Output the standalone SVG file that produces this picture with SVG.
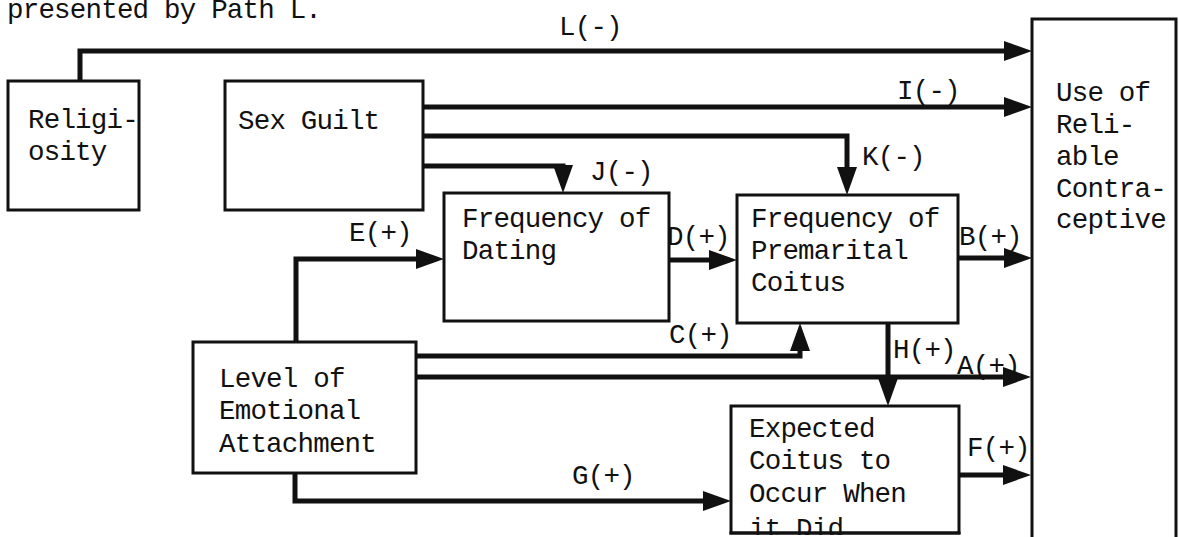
<svg xmlns="http://www.w3.org/2000/svg" width="1179" height="537" viewBox="0 0 1179 537">
  <style>
    .box { fill: #fff; stroke: #111; stroke-width: 3; }
    .edge { fill: none; stroke: #111; stroke-width: 5; stroke-linejoin: miter; }
    text { font-family: "Liberation Mono", "DejaVu Sans Mono", monospace; font-size: 27.5px; letter-spacing: -0.8px; fill: #111; }
  </style>
  <defs>
    <marker id="arrow" markerUnits="userSpaceOnUse" markerWidth="28" markerHeight="20" viewBox="0 0 28 20" refX="13" refY="10" orient="auto">
      <path d="M0,0 L28,10 L0,20 Z" fill="#111"/>
    </marker>
  </defs>

  <rect width="1179" height="537" fill="#fff"/>

  <text x="7" y="18">presented by Path L.</text>

  <g id="connectors">
    <path id="path-L" class="edge" d="M80,82 L80,51 L1017,51" marker-end="url(#arrow)"/>
    <path id="path-I" class="edge" d="M423,107 L1017,107" marker-end="url(#arrow)"/>
    <path id="path-K" class="edge" d="M423,136 L847,136 L847,180" marker-end="url(#arrow)"/>
    <path id="path-J" class="edge" d="M423,166 L563,166 L563,178" marker-end="url(#arrow)"/>
    <path id="path-E" class="edge" d="M296,342 L296,259 L429,259" marker-end="url(#arrow)"/>
    <path id="path-D" class="edge" d="M669,260 L722,260" marker-end="url(#arrow)"/>
    <path id="path-B" class="edge" d="M958,258 L1017,258" marker-end="url(#arrow)"/>
    <path id="path-C" class="edge" d="M416,356 L800,356 L800,338" marker-end="url(#arrow)"/>
    <path id="path-A" class="edge" d="M416,377 L1016,377" marker-end="url(#arrow)"/>
    <path id="path-H" class="edge" d="M888,323 L888,391" marker-end="url(#arrow)"/>
    <path id="path-F" class="edge" d="M959,475 L1016,475" marker-end="url(#arrow)"/>
    <path id="path-G" class="edge" d="M295,473 L295,501 L716,501" marker-end="url(#arrow)"/>

    <text x="559" y="35">L(-)</text>
    <text x="897" y="99">I(-)</text>
    <text x="862" y="165">K(-)</text>
    <text x="590" y="180">J(-)</text>
    <text x="349" y="241">E(+)</text>
    <text x="667" y="245">D(+)</text>
    <text x="959" y="245">B(+)</text>
    <text x="669" y="343">C(+)</text>
    <text x="893" y="358">H(+)</text>
    <text x="957" y="374">A(+)</text>
    <text x="967" y="456">F(+)</text>
    <text x="572" y="484">G(+)</text>
  </g>

  <g id="religiosity">
    <rect class="box" x="8" y="81" width="131" height="129"/>
    <text x="28" y="128">Religi-</text>
    <text x="28" y="160">osity</text>
  </g>

  <g id="sex-guilt">
    <rect class="box" x="225" y="81" width="198" height="129"/>
    <text x="238" y="129">Sex Guilt</text>
  </g>

  <g id="dating">
    <rect class="box" x="444" y="193" width="225" height="128"/>
    <text x="462" y="227">Frequency of</text>
    <text x="462" y="259">Dating</text>
  </g>

  <g id="premarital-coitus">
    <rect class="box" x="737" y="195" width="221" height="128"/>
    <text x="751" y="227">Frequency of</text>
    <text x="751" y="259">Premarital</text>
    <text x="751" y="291">Coitus</text>
  </g>

  <g id="emotional-attachment">
    <rect class="box" x="193" y="342" width="223" height="131"/>
    <text x="219" y="387">Level of</text>
    <text x="219" y="419">Emotional</text>
    <text x="219" y="452">Attachment</text>
  </g>

  <g id="expected-coitus">
    <rect class="box" x="731" y="406" width="228" height="127"/>
    <text x="749" y="437">Expected</text>
    <text x="749" y="469">Coitus to</text>
    <text x="749" y="502">Occur When</text>
    <text x="749" y="537">it Did</text>
    <!-- lower border drawn over the last line -->
    <line x1="729.5" y1="533" x2="960.5" y2="533" stroke="#111" stroke-width="3"/>
    <rect x="729" y="535" width="233" height="4" fill="#fff"/>
  </g>

  <g id="contraceptive-use">
    <rect class="box" x="1032" y="19" width="144" height="540"/>
    <text x="1056" y="101">Use of</text>
    <text x="1056" y="133">Reli-</text>
    <text x="1056" y="165">able</text>
    <text x="1056" y="197">Contra-</text>
    <text x="1056" y="228">ceptive</text>
  </g>
</svg>
